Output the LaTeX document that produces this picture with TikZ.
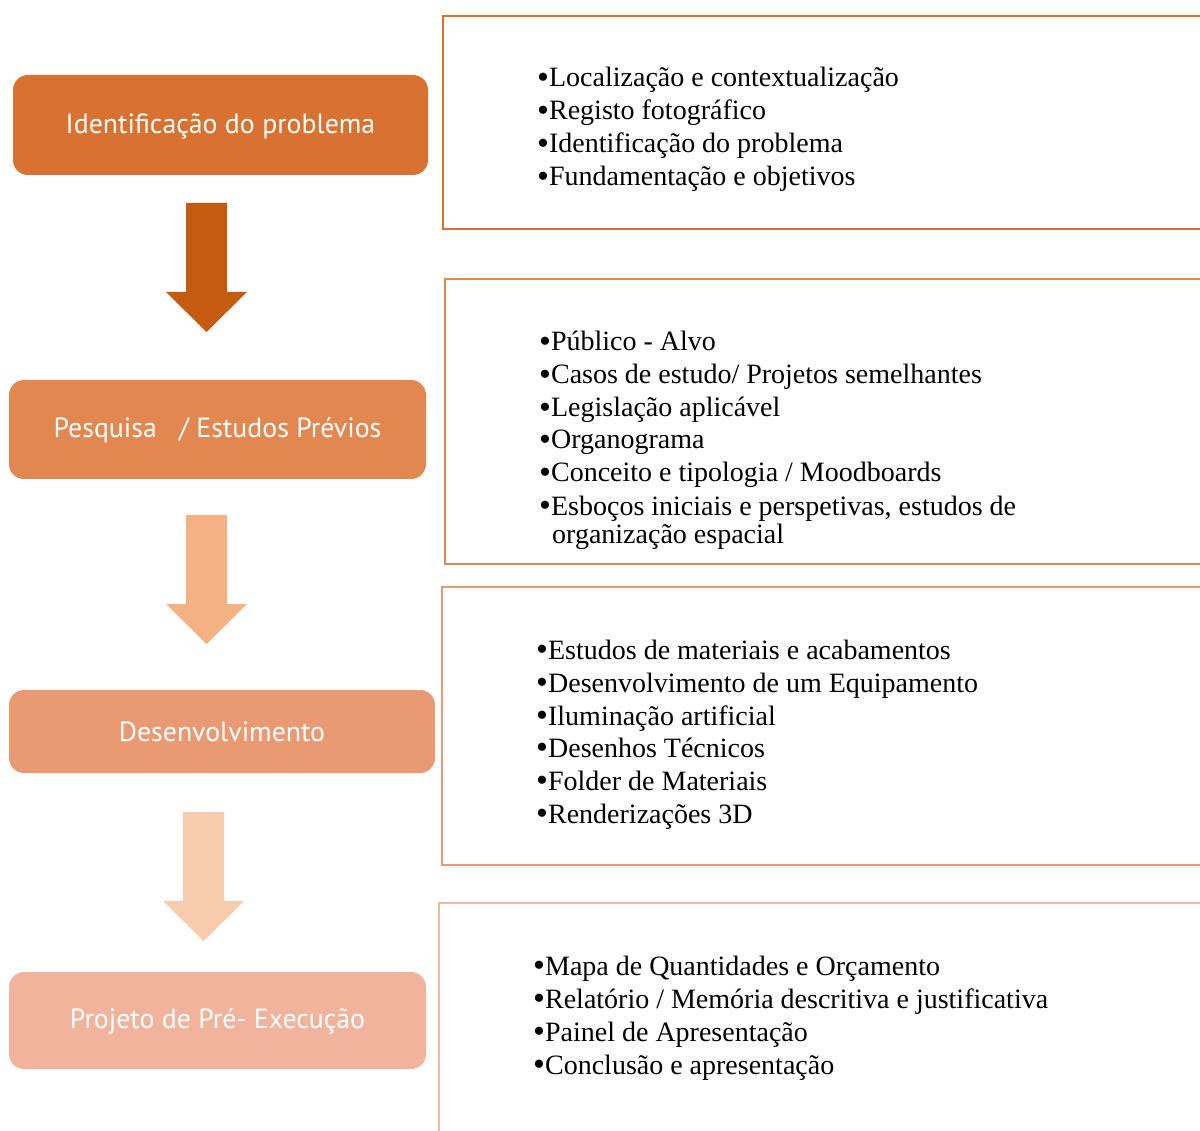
\documentclass[tikz,border=0pt]{standalone}
\usepackage{fontspec}
\setmainfont{Liberation Serif}
\newfontfamily\boxfont{PT Sans}
\definecolor{cA}{RGB}{217,114,48}
\definecolor{cB}{RGB}{227,135,80}
\definecolor{cC}{RGB}{234,154,115}
\definecolor{cD}{RGB}{242,179,156}
\definecolor{aA}{RGB}{197,90,17}
\definecolor{aB}{RGB}{244,177,131}
\definecolor{aC}{RGB}{248,203,173}
\definecolor{bD}{RGB}{245,184,160}
\newcommand{\blt}{{\fontsize{34}{33}\selectfont\raisebox{-1.5pt}{•}}}
\begin{document}
\begin{tikzpicture}[x=1pt,y=-1pt,
  stage/.style={rounded corners=15pt,text=white,font=\boxfont\fontsize{27.8}{32}\selectfont},
  listbox/.style={line width=2.5pt},
  itemtxt/.style={anchor=base west,inner sep=0pt,font=\fontsize{28}{33}\selectfont,text=black}]
\useasboundingbox (0,0) rectangle (1200,1131);
% left stage boxes
\fill[stage,cA] (13,75) rectangle (428,175);
\node[stage] (s1) at (220.5,126) {Identificação do problema};
\fill[stage,cB] (9,380) rectangle (426,479);
\node[stage] (s2) at (217.5,430) {Pesquisa \ \ / Estudos Prévios};
\fill[stage,cC] (9,690) rectangle (435,773);
\node[stage] (s3) at (222,732) {Desenvolvimento};
\fill[stage,cD] (9,972) rectangle (426,1069);
\node[stage] (s4) at (217.5,1021) {Projeto de Pré- Execução};
% arrows
\fill[aA] (186,203) -- (227,203) -- (227,292) -- (247,292) -- (206.5,332) -- (166,292) -- (186,292) -- cycle;
\fill[aB] (186,515) -- (227,515) -- (227,604) -- (247,604) -- (206.5,644) -- (166,604) -- (186,604) -- cycle;
\fill[aC] (183,812) -- (224,812) -- (224,901) -- (244,901) -- (203.5,941) -- (163,901) -- (183,901) -- cycle;
% right list boxes
\draw[listbox,cA] (1205,16) -- (443,16) -- (443,229) -- (1205,229);
\draw[listbox,cB] (1205,279) -- (445,279) -- (445,564) -- (1205,564);
\draw[listbox,cC] (1205,587) -- (442,587) -- (442,865) -- (1205,865);
\draw[listbox,bD] (1205,903) -- (439,903) -- (439,1135);
% items box 1
\node[itemtxt] (a1) at (537,87) {\blt Localização e contextualização};
\node[itemtxt] (a2) at (537,120) {\blt Registo fotográfico};
\node[itemtxt] (a3) at (537,153) {\blt Identificação do problema};
\node[itemtxt] (a4) at (537,186) {\blt Fundamentação e objetivos};
% items box 2
\node[itemtxt] (b1) at (539,351) {\blt Público - Alvo};
\node[itemtxt] (b2) at (539,384) {\blt Casos de estudo/ Projetos semelhantes};
\node[itemtxt] (b3) at (539,417) {\blt Legislação aplicável};
\node[itemtxt] (b4) at (539,449) {\blt Organograma};
\node[itemtxt] (b5) at (539,482) {\blt Conceito e tipologia / Moodboards};
\node[itemtxt] (b6) at (539,515) {\blt Esboços iniciais e perspetivas, estudos de};
\node[itemtxt] (b7) at (552,543) {organização espacial};
% items box 3
\node[itemtxt] (c1) at (536,659) {\blt Estudos de materiais e acabamentos};
\node[itemtxt] (c2) at (536,692) {\blt Desenvolvimento de um Equipamento};
\node[itemtxt] (c3) at (536,725) {\blt Iluminação artificial};
\node[itemtxt] (c4) at (536,757) {\blt Desenhos Técnicos};
\node[itemtxt] (c5) at (536,790) {\blt Folder de Materiais};
\node[itemtxt] (c6) at (536,823) {\blt Renderizações 3D};
% items box 4
\node[itemtxt] (d1) at (533,975) {\blt Mapa de Quantidades e Orçamento};
\node[itemtxt] (d2) at (533,1008) {\blt Relatório / Memória descritiva e justificativa};
\node[itemtxt] (d3) at (533,1041) {\blt Painel de Apresentação};
\node[itemtxt] (d4) at (533,1074) {\blt Conclusão e apresentação};
\end{tikzpicture}
\end{document}
